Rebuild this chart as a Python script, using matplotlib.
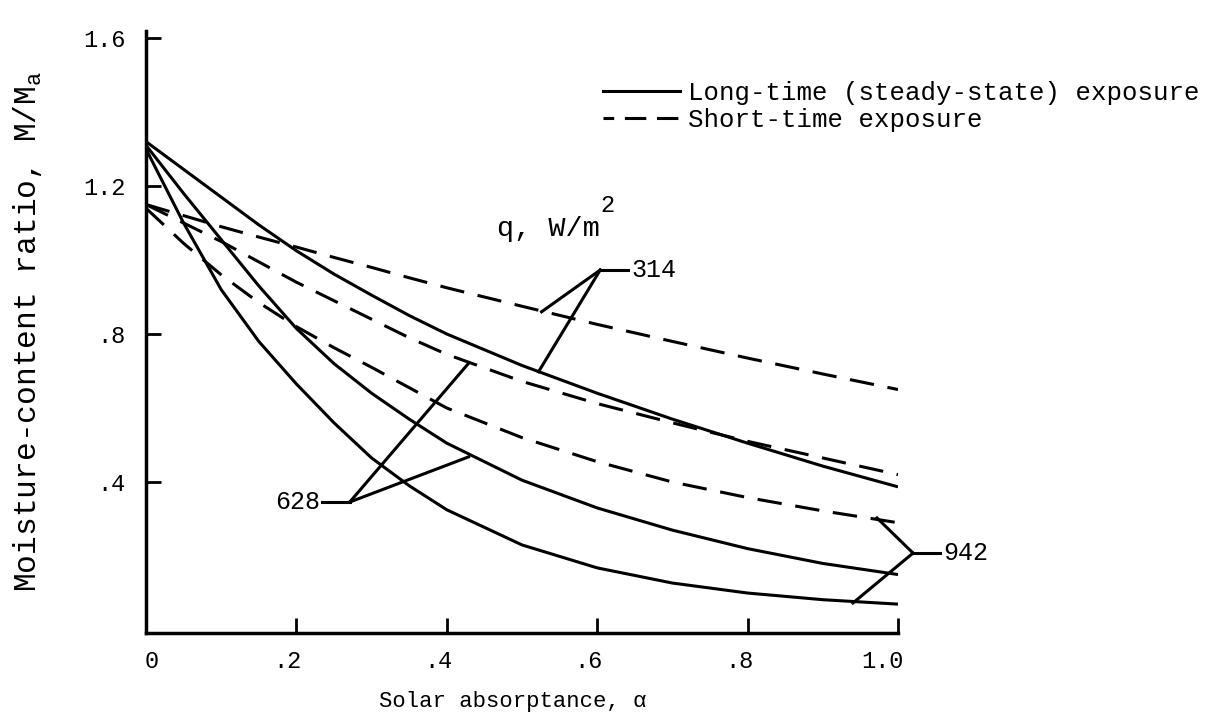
import matplotlib
matplotlib.use('Agg')
import matplotlib.pyplot as plt
from matplotlib.lines import Line2D
from matplotlib.transforms import ScaledTranslation

# solar absorptance grid
alpha = [0, .05, .1, .15, .2, .25, .3, .35, .4, .5, .6, .7, .8, .9, 1.0]

# long-time (steady-state) curves
solid_314 = [1.32, 1.245, 1.17, 1.095, 1.025, 0.962, 0.905, 0.85, 0.80, 0.715, 0.64, 0.57, 0.505, 0.443, 0.387]
solid_628 = [1.31, 1.18, 1.055, 0.93, 0.815, 0.72, 0.64, 0.57, 0.505, 0.405, 0.33, 0.27, 0.22, 0.18, 0.15]
solid_942 = [1.30, 1.10, 0.92, 0.78, 0.665, 0.56, 0.465, 0.39, 0.325, 0.23, 0.168, 0.127, 0.10, 0.082, 0.07]

# short-time curves
dashed_314 = [1.15, 1.12, 1.09, 1.062, 1.035, 1.007, 0.98, 0.952, 0.925, 0.875, 0.826, 0.78, 0.735, 0.692, 0.65]
dashed_628 = [1.15, 1.10, 1.05, 0.995, 0.94, 0.89, 0.84, 0.79, 0.745, 0.672, 0.612, 0.56, 0.51, 0.465, 0.42]
dashed_942 = [1.14, 1.045, 0.96, 0.885, 0.82, 0.763, 0.71, 0.655, 0.60, 0.52, 0.455, 0.40, 0.358, 0.322, 0.29]

xticks = [0, .2, .4, .6, .8, 1.0]
xticklabels = ['0', '.2', '.4', '.6', '.8', '1.0']
yticks = [.4, .8, 1.2, 1.6]
yticklabels = ['.4', '.8', '1.2', '1.6']

# leader lines for the q labels: (label, text pos, vertex, tail end, [targets])
leaders = [
    ('314', (0.645, 0.973), (0.604, 0.973), (0.641, 0.973), [(0.526, 0.860), (0.522, 0.698)]),
    ('628', (0.232, 0.346), (0.271, 0.346), (0.234, 0.346), [(0.429, 0.721), (0.429, 0.468)]),
    ('942', (1.060, 0.208), (1.020, 0.208), (1.056, 0.208), [(0.972, 0.303), (0.940, 0.073)]),
]

plt.rcParams['font.family'] = ['Liberation Mono', 'DejaVu Sans Mono']
plt.rcParams['mathtext.fontset'] = 'custom'
plt.rcParams['mathtext.rm'] = 'Liberation Mono'
plt.rcParams['mathtext.it'] = 'Liberation Mono'

lw = 2.2
dash = (8, 4.5)

fig = plt.figure(figsize=(12.17, 7.23), dpi=100)
ax = fig.add_axes([146 / 1217, 90 / 723, 752 / 1217, 602.4 / 723])

for ys in [solid_314, solid_628, solid_942]:
    ax.plot(alpha, ys, color='black', lw=lw, solid_capstyle='butt')
for ys in [dashed_314, dashed_628, dashed_942]:
    ax.plot(alpha, ys, color='black', lw=lw, dashes=dash)

for lab, tpos, vert, tail, targets in leaders:
    ax.plot([vert[0], tail[0]], [vert[1], tail[1]], color='black', lw=lw, clip_on=False)
    for t in targets:
        ax.plot([vert[0], t[0]], [vert[1], t[1]], color='black', lw=lw, clip_on=False)
    ha = 'right' if tpos[0] < vert[0] else 'left'
    ax.text(tpos[0], tpos[1], lab, fontsize=18, ha=ha, va='center')

# q, W/m^2 heading with a full-size raised 2
qt = ax.text(0.467, 1.065, 'q, W/m', fontsize=20.5, ha='left', va='baseline')
ax.annotate('2', xy=(1.0, 0.95), xycoords=qt, fontsize=17, ha='left', va='bottom')

ax.set_xlim(0, 1.0)
ax.set_ylim(-0.008, 1.62)
ax.spines['top'].set_visible(False)
ax.spines['right'].set_visible(False)
ax.spines['left'].set_linewidth(2.5)
ax.spines['bottom'].set_linewidth(2.5)
ax.set_xticks(xticks)
ax.set_xticklabels(xticklabels)
ax.set_yticks(yticks)
ax.set_yticklabels(yticklabels)
ax.tick_params(direction='in', length=11, width=2, labelsize=17)
ax.tick_params(axis='x', pad=12)
ax.tick_params(axis='y', pad=15)

# typewriter labels sit with the last digit on the tick
shift = ScaledTranslation(4 / 72, 0, fig.dpi_scale_trans)
for i, lbl in enumerate(ax.get_xticklabels()):
    if i > 0:
        lbl.set_ha('right')
    lbl.set_transform(lbl.get_transform() + shift)

ax.set_xlabel('Solar absorptance, \u03b1', fontsize=16)
ax.xaxis.set_label_coords(0.488, -0.096)
ax.set_ylabel('Moisture-content ratio, M/M$_{a}$', fontsize=22.5)
ax.yaxis.set_label_coords(-0.136, 0.5)

handles = [Line2D([], [], color='black', lw=lw),
           Line2D([], [], color='black', lw=lw, linestyle=(3.5, (7, 3.5)))]
ax.legend(handles, ['Long-time (steady-state) exposure', 'Short-time exposure'],
          loc='upper left', bbox_to_anchor=(603 / 1217, 1 - 81 / 723),
          bbox_transform=fig.transFigure, frameon=False, fontsize=18.5,
          handlelength=3.0, handletextpad=0.3, labelspacing=0.12,
          borderpad=0, borderaxespad=0)

fig.savefig('out.png', dpi=100)
